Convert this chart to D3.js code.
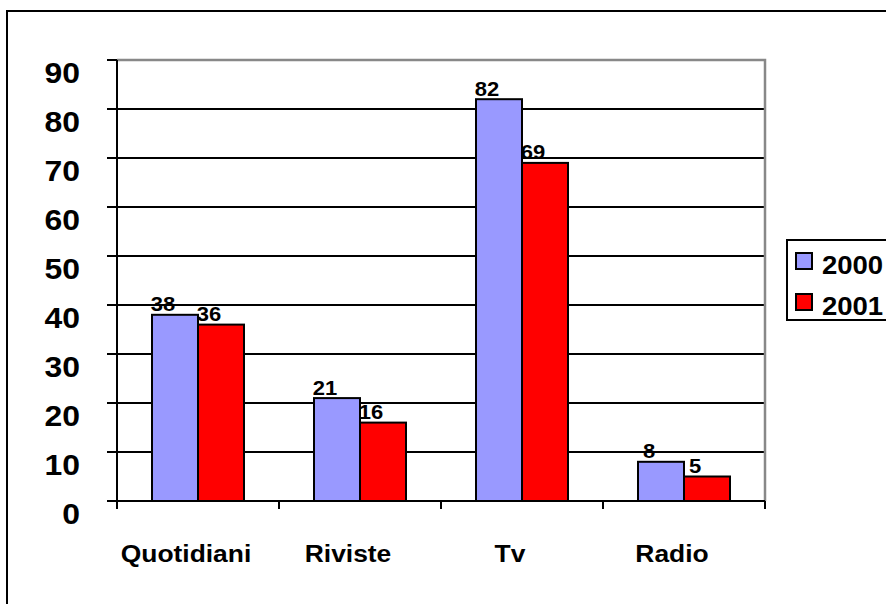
<!DOCTYPE html>
<html><head><meta charset="utf-8">
<script src="https://cdn.jsdelivr.net/npm/d3@7"></script>
<style>body{margin:0;background:#fff}svg{display:block}text{font-family:"Liberation Sans",Arial,sans-serif;font-weight:bold;fill:#000}</style>
</head><body><svg id="c" width="886" height="604"></svg>
<script>
const categories = ["Quotidiani","Riviste","Tv","Radio"];
const seriesNames = ["2000","2001"];
const values2000 = [38,21,82,8];
const values2001 = [36,16,69,5];
const yTicks = [0,10,20,30,40,50,60,70,80,90];
const colors = ["#9999FF","#FF0000"];

const svg = d3.select("#c");
const L=117, R=765, T=60, B=501;
const x0 = d3.scaleBand().domain(categories).range([L,R]).padding(0);
const x1 = d3.scaleBand().domain(seriesNames).range([35,127]).padding(0);
const y = d3.scaleLinear().domain([0,90]).range([B,T]);
const SX = 1.1;
function stext(parent,x,yy,txt,size,anchor){
  const g=parent.append("g").attr("transform",`translate(${x},${yy}) scale(${SX},1)`);
  g.append("text").attr("text-anchor",anchor).style("font-size",size+"px").text(txt);
}
// outer frame (left + top)
svg.append("path").attr("d","M7,610 L7,11 L895,11").attr("fill","none").attr("stroke","#000").attr("stroke-width",2);

// gridlines
const grid = svg.append("g");
yTicks.filter(t=>t>0 && t<90).forEach(t=>{
  grid.append("line").attr("x1",L-10).attr("x2",R).attr("y1",y(t)).attr("y2",y(t)).attr("stroke","#000").attr("stroke-width",2);
});
// plot border top/right gray
svg.append("path").attr("d",`M${L},${y(90)} L${R},${y(90)} L${R},${B}`).attr("fill","none").attr("stroke","#888").attr("stroke-width",2.5);
svg.append("line").attr("x1",L-10).attr("x2",L).attr("y1",y(90)).attr("y2",y(90)).attr("stroke","#000").attr("stroke-width",2);

// bars
const data = categories.map((c,i)=>({c, v:[values2000[i],values2001[i]]}));
const gb = svg.append("g");
data.forEach(d=>{
  seriesNames.forEach((s,j)=>{
    gb.append("rect").attr("x",x0(d.c)+x1(s)).attr("y",y(d.v[j])).attr("width",x1.bandwidth()).attr("height",B-y(d.v[j]))
      .attr("fill",colors[j]).attr("stroke","#000").attr("stroke-width",2);
  });
});
// axes
svg.append("line").attr("x1",L).attr("x2",L).attr("y1",T).attr("y2",B+8).attr("stroke","#000").attr("stroke-width",2);
svg.append("line").attr("x1",L-10).attr("x2",R).attr("y1",B).attr("y2",B).attr("stroke","#000").attr("stroke-width",2);
categories.forEach((c,i)=>{
  svg.append("line").attr("x1",x0(c)+x0.bandwidth()).attr("x2",x0(c)+x0.bandwidth()).attr("y1",B).attr("y2",B+8).attr("stroke","#000").attr("stroke-width",2);
});
// y labels
yTicks.forEach(t=>stext(svg,80,y(t)+23,String(t),29,"end"));
// category labels
categories.forEach(c=>stext(svg,x0(c)+x0.bandwidth()/2-12,562,c,24,"middle"));
// data labels
data.forEach(d=>{
  seriesNames.forEach((s,j)=>{
    stext(svg,x0(d.c)+x1(s)+x1.bandwidth()/2-12,y(d.v[j])-3.5,String(d.v[j]),20,"middle");
  });
});
// legend
const lg = svg.append("g");
lg.append("rect").attr("x",787).attr("y",240).attr("width",120).attr("height",80).attr("fill","#fff").attr("stroke","#000").attr("stroke-width",2);
seriesNames.forEach((s,j)=>{
  const yy = 253 + j*41;
  lg.append("rect").attr("x",796).attr("y",yy).attr("width",16).attr("height",16).attr("fill",colors[j]).attr("stroke","#000").attr("stroke-width",2);
  stext(lg,822,yy+21,s,25,"start");
});
</script></body></html>
